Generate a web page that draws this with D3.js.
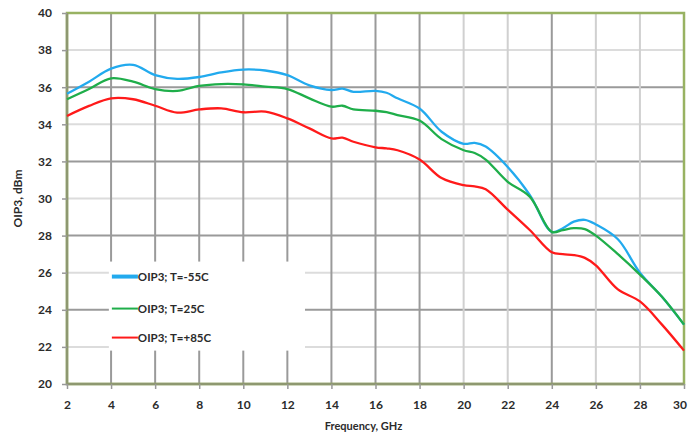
<!DOCTYPE html>
<html>
<head>
<meta charset="utf-8">
<script src="https://cdn.jsdelivr.net/npm/d3@7"></script>
<style>
  html, body { margin: 0; padding: 0; background: #fff; overflow: hidden; }
  svg { display: block; }
  text { font-family: Lato, "Liberation Sans", sans-serif; fill: #2b2b2b; }
</style>
</head>
<body>
<svg id="chart"></svg>
<script>
// frequency grid, GHz
const freq = [2, 3, 4, 5, 6, 7, 8, 9, 10, 11, 12, 13, 14, 14.5, 15, 16, 16.5, 17, 18, 19, 20, 20.5, 21, 22, 23, 24, 24.5, 25, 25.5, 26, 27, 28, 29, 30];

const oipCold = [35.65, 36.3, 37.0, 37.2, 36.65, 36.45, 36.55, 36.8, 36.95, 36.9, 36.65, 36.1, 35.85, 35.92, 35.75, 35.8, 35.7, 35.4, 34.85, 33.6, 32.95, 33.0, 32.8, 31.7, 30.2, 28.2, 28.4, 28.75, 28.85, 28.6, 27.8, 26.0, 24.7, 23.2];
const oipRoom = [35.35, 35.9, 36.48, 36.3, 35.9, 35.8, 36.07, 36.17, 36.15, 36.03, 35.9, 35.4, 34.95, 35.0, 34.8, 34.73, 34.65, 34.5, 34.2, 33.2, 32.6, 32.45, 32.1, 30.9, 30.1, 28.2, 28.3, 28.4, 28.35, 28.0, 27.0, 25.9, 24.7, 23.2];
const oipHot = [34.45, 34.99, 35.4, 35.35, 35.0, 34.63, 34.8, 34.86, 34.65, 34.68, 34.32, 33.78, 33.24, 33.28, 33.06, 32.76, 32.7, 32.6, 32.1, 31.1, 30.72, 30.65, 30.5, 29.4, 28.3, 27.1, 27.0, 26.95, 26.8, 26.4, 25.1, 24.45, 23.2, 21.8];

const xTicks = d3.range(2, 31, 2);
const yTicks = d3.range(20, 41, 2);
const darkX = [4, 6, 8, 10, 12, 14, 16, 18, 24];
const darkY = [36, 32, 28, 24];

const series = [
  { name: "OIP3; T=-55C", values: oipCold, color: "#22aaee" },
  { name: "OIP3; T=25C", values: oipRoom, color: "#1fae4a" },
  { name: "OIP3; T=+85C", values: oipHot, color: "#ff1a1a" }
];

const width = 689, height = 437;
const margin = { top: 13, right: 5, bottom: 53, left: 67 };
const innerWidth = width - margin.left - margin.right;
const innerHeight = height - margin.top - margin.bottom;

const svg = d3.select("#chart").attr("width", width).attr("height", height);
const g = svg.append("g").attr("transform", `translate(${margin.left},${margin.top})`);

const x = d3.scaleLinear().domain([2, 30]).range([0, innerWidth]);
const y = d3.scaleLinear().domain([20, 40]).range([innerHeight, 0]);

// grid
g.append("g").selectAll("line").data(yTicks.filter(v => v > 20 && v < 40)).join("line")
  .attr("x1", 0).attr("x2", innerWidth)
  .attr("y1", d => y(d)).attr("y2", d => y(d))
  .attr("stroke", d => darkY.includes(d) ? "#9a9a9a" : "#dcdcdc")
  .attr("stroke-width", 2);

g.append("g").selectAll("line").data(xTicks.filter(v => v > 2 && v < 30)).join("line")
  .attr("y1", 0).attr("y2", innerHeight)
  .attr("x1", d => x(d)).attr("x2", d => x(d))
  .attr("stroke", d => darkX.includes(d) ? "#9a9a9a" : "#d0d0d0")
  .attr("stroke-width", 2);

// legend box (white, covers grid)
const legend = g.append("g").attr("transform", `translate(${x(3.9)},${y(26.6)})`);
legend.append("rect")
  .attr("width", x(12.8) - x(3.9))
  .attr("height", y(21.8) - y(26.6))
  .attr("fill", "#fff");

// border
g.append("rect")
  .attr("width", innerWidth).attr("height", innerHeight)
  .attr("fill", "none").attr("stroke", "#98b262").attr("stroke-width", 2.5);
g.append("path")
  .attr("d", `M0,0V${innerHeight}H${innerWidth}`)
  .attr("fill", "none").attr("stroke", "#8e9870").attr("stroke-width", 2.5);

// axes
const yAxis = g.append("g")
  .call(d3.axisLeft(y).tickValues(yTicks).tickSize(5).tickPadding(10));
const xAxis = g.append("g").attr("transform", `translate(0,${innerHeight})`)
  .call(d3.axisBottom(x).tickValues(xTicks).tickSize(5).tickPadding(11));
[yAxis, xAxis].forEach(a => {
  a.select(".domain").remove();
  a.selectAll(".tick line").attr("stroke", "#999").attr("stroke-width", 1.5);
  a.selectAll(".tick text").attr("font-size", 12).attr("font-weight", "bold").attr("fill", "#2b2b2b");
});
// last x label sits at the window edge, as in the reference
xAxis.selectAll(".tick text").filter(d => d === 30).attr("text-anchor", "end").attr("dx", "0.2em");

// curves
const line = d3.line()
  .x((d, i) => x(freq[i]))
  .y(d => y(d))
  .curve(d3.curveCatmullRom);

g.selectAll("path.series").data(series).join("path")
  .attr("class", "series")
  .attr("d", d => line(d.values))
  .attr("fill", "none")
  .attr("stroke", d => d.color)
  .attr("stroke-width", 2.3);

// legend entries
const items = legend.selectAll("g").data(series).join("g")
  .attr("transform", (d, i) => `translate(3,${[15, 47, 76][i]})`);
items.append("line")
  .attr("x1", 0).attr("x2", 26)
  .attr("stroke", d => d.color)
  .attr("stroke-width", d => d.color === "#22aaee" ? 4 : 2);
items.append("text")
  .attr("x", 26).attr("dy", "0.35em")
  .attr("font-size", 11.5).attr("font-weight", "bold")
  .text(d => d.name);

// titles
svg.append("text")
  .attr("x", margin.left + innerWidth / 2 - 12).attr("y", 430)
  .attr("text-anchor", "middle").attr("font-size", 11).attr("font-weight", "bold")
  .text("Frequency, GHz");

svg.append("text")
  .attr("transform", `translate(22,${margin.top + innerHeight / 2}) rotate(-90)`)
  .attr("text-anchor", "middle").attr("font-size", 12).attr("font-weight", "bold")
  .text("OIP3, dBm");
</script>
</body>
</html>
